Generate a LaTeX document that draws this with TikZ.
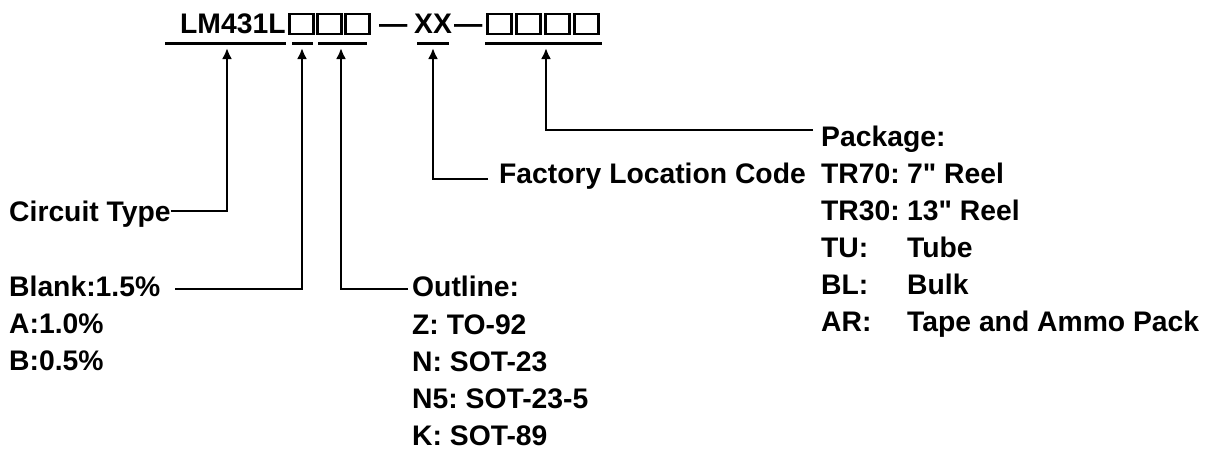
\documentclass[tikz,border=0pt]{standalone}
\usepackage{fontspec}
\setmainfont{Liberation Sans}[Ligatures=TeXOff]
\usetikzlibrary{arrows.meta}
\frenchspacing
\tikzset{
  txt/.style={font=\fontsize{28.3}{34}\selectfont\bfseries, inner sep=0pt, text height=20pt, text depth=0pt, anchor=west},
  toptxt/.style={font=\fontsize{28.3}{34}\selectfont\bfseries, inner sep=0pt, anchor=base west},
  sq/.style={draw, line width=2.8pt, minimum width=24pt, minimum height=20pt, inner sep=0pt},
  uline/.style={line width=3pt},
  conn/.style={line width=2.9pt, -{Latex[length=11pt,width=10pt]}}
}
\begin{document}
\begin{tikzpicture}[x=1pt,y=-1pt]
\useasboundingbox (0,0) rectangle (1211,450);
% top code line
\node[toptxt] (lm) at (180,33) {LM431L};
\node[sq] (b1) at (301.5,24) {};
\node[sq] (b2) at (329.5,24) {};
\node[sq] (b3) at (357.5,24) {};
\node[toptxt] (d1) at (379,33) {—};
\node[toptxt] (xx) at (414,33) {XX};
\node[toptxt] (d2) at (454,33) {—};
\node[sq] (p1) at (499.5,24) {};
\node[sq] (p2) at (528.5,24) {};
\node[sq] (p3) at (557.5,24) {};
\node[sq] (p4) at (586.5,24) {};
% underlines
\draw[uline] (165,43) -- (286,43);
\draw[uline] (292,43) -- (313,43);
\draw[uline] (318,43) -- (367,43);
\draw[uline] (417,43) -- (449,43);
\draw[uline] (485,43) -- (602,43);
% arrow tips
\coordinate (a1) at (227,48);
\coordinate (a2) at (302,48);
\coordinate (a3) at (341,48);
\coordinate (a4) at (433,48);
\coordinate (a5) at (546,48);
% labels
\node[txt] (ct) at (9,211) {Circuit Type};
\node[txt] (blank) at (9,286) {Blank:1.5\%};
\node[txt] (ga) at (9,323) {A:1.0\%};
\node[txt] (gb) at (9,360) {B:0.5\%};
\node[txt] (ol) at (412,286) {Outline:};
\node[txt] (oz) at (412,324) {Z: TO-92};
\node[txt] (on) at (412,361) {N: SOT-23};
\node[txt] (on5) at (412,398) {N5: SOT-23-5};
\node[txt] (ok) at (412,435) {K: SOT-89};
\node[txt] (fl) at (499,173) {Factory Location Code};
\node[txt] (pk) at (821,136) {Package:};
\node[txt] (k1) at (821,173) {TR70:};
\node[txt] (k2) at (821,210) {TR30:};
\node[txt] (k3) at (821,247) {TU:};
\node[txt] (k4) at (821,284) {BL:};
\node[txt] (k5) at (821,321) {AR:};
\node[txt] (v1) at (907,173) {7" Reel};
\node[txt] (v2) at (907,210) {13" Reel};
\node[txt] (v3) at (907,247) {Tube};
\node[txt] (v4) at (907,284) {Bulk};
\node[txt] (v5) at (907,321) {Tape and Ammo Pack};
% connector starts
\coordinate (s2) at (175,289);
\coordinate (s3) at (408,289);
\coordinate (s4) at (488,179);
\coordinate (s5) at (813,130);
% connectors
\draw[conn] (ct.east) -| (a1);
\draw[conn] (s2) -| (a2);
\draw[conn] (s3) -| (a3);
\draw[conn] (s4) -| (a4);
\draw[conn] (s5) -| (a5);
\end{tikzpicture}
\end{document}
